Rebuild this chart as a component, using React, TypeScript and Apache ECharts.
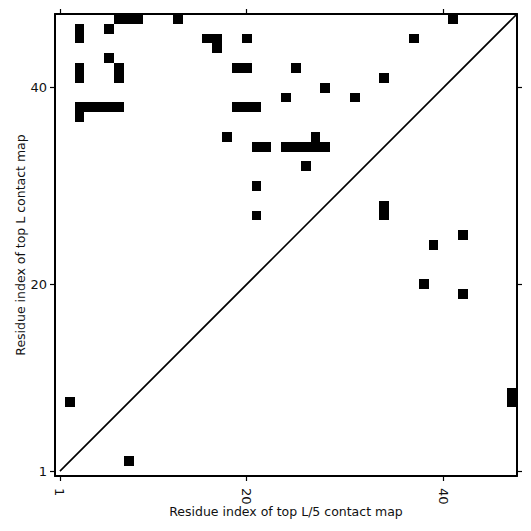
import React, { useEffect, useRef } from "react";
import * as echarts from "echarts";

const axisMin = 0.5;
const axisMax = 47.5;
const xTicks = [1, 20, 40];
const yTicks = [1, 20, 40];
const xTitle = "Residue index of top L/5 contact map";
const yTitle = "Residue index of top L contact map";

// contact cells: [residue i (x), residue j (y)]
const contacts: [number, number][] = [
  [7, 47], [8, 47], [9, 47], [13, 47], [41, 47],
  [3, 46], [6, 46],
  [3, 45], [16, 45], [17, 45], [20, 45], [37, 45],
  [17, 44],
  [6, 43],
  [3, 42], [7, 42], [19, 42], [20, 42], [25, 42],
  [3, 41], [7, 41], [34, 41],
  [28, 40],
  [24, 39], [31, 39],
  [3, 38], [4, 38], [5, 38], [6, 38], [7, 38], [19, 38], [20, 38], [21, 38],
  [3, 37],
  [18, 35], [27, 35],
  [21, 34], [22, 34], [24, 34], [25, 34], [26, 34], [27, 34], [28, 34],
  [26, 32],
  [21, 30],
  [34, 28],
  [21, 27], [34, 27],
  [42, 25],
  [39, 24],
  [38, 20],
  [42, 19],
  [47, 9],
  [2, 8], [47, 8],
  [8, 2],
];

const diagonal: [number, number][] = [
  [1, 1],
  [47.5, 47.5],
];

const font = "DejaVu Sans";

export default function App() {
  const ref = useRef<HTMLDivElement>(null);
  useEffect(() => {
    document.body.style.margin = "0";
    if (!ref.current) return;
    const chart = echarts.init(ref.current, null, { renderer: "svg" });
    const lineStyle = { color: "#000", width: 2 };
    const tickStyle = { color: "#000", width: 1.2 };
    chart.setOption({
      animation: false,
      backgroundColor: "#fff",
      grid: { left: 55, right: 14, top: 14, bottom: 55, containLabel: false },
      xAxis: [
        {
          type: "value",
          min: axisMin,
          max: axisMax,
          position: "bottom",
          splitLine: { show: false },
          axisLine: { onZero: false, lineStyle },
          axisTick: { customValues: xTicks, length: 5, lineStyle: tickStyle },
          axisLabel: {
            customValues: xTicks,
            rotate: -90,
            color: "#111",
            fontSize: 13,
            fontFamily: font,
            margin: 12,
          },
          name: xTitle,
          nameLocation: "middle",
          nameMoveOverlap: false,
          nameGap: 29,
          nameTextStyle: { color: "#111", fontSize: 12.5, fontFamily: font, verticalAlign: "top" },
        },
        {
          type: "value",
          min: axisMin,
          max: axisMax,
          position: "top",
          splitLine: { show: false },
          axisLine: { onZero: false, lineStyle },
          axisTick: { customValues: xTicks, length: 5, lineStyle: tickStyle },
          axisLabel: { show: false },
        },
      ],
      yAxis: [
        {
          type: "value",
          min: axisMin,
          max: axisMax,
          position: "left",
          splitLine: { show: false },
          axisLine: { onZero: false, lineStyle },
          axisTick: { customValues: yTicks, length: 5, lineStyle: tickStyle },
          axisLabel: {
            customValues: yTicks,
            color: "#111",
            fontSize: 13,
            fontFamily: font,
            margin: 8,
          },
          name: yTitle,
          nameLocation: "middle",
          nameMoveOverlap: false,
          nameGap: 28,
          nameTextStyle: { color: "#111", fontSize: 12.5, fontFamily: font },
        },
        {
          type: "value",
          min: axisMin,
          max: axisMax,
          position: "right",
          splitLine: { show: false },
          axisLine: { onZero: false, lineStyle },
          axisTick: { customValues: yTicks, length: 5, lineStyle: tickStyle },
          axisLabel: { show: false },
        },
      ],
      series: [
        {
          type: "custom",
          xAxisIndex: 0,
          yAxisIndex: 0,
          data: contacts,
          encode: { x: 0, y: 1 },
          clip: true,
          renderItem: (params: any, api: any) => {
            const x = api.value(0);
            const y = api.value(1);
            const a = api.coord([x - 0.5, y + 0.5]);
            const b = api.coord([x + 0.5, y - 0.5]);
            const x0 = Math.round(a[0]);
            const y0 = Math.round(a[1]);
            const x1 = Math.round(b[0]);
            const y1 = Math.round(b[1]);
            return {
              type: "rect",
              shape: { x: x0, y: y0, width: x1 - x0, height: y1 - y0 },
              style: { fill: "#000" },
            };
          },
        },
        {
          type: "line",
          xAxisIndex: 0,
          yAxisIndex: 0,
          data: diagonal,
          showSymbol: false,
          symbol: "none",
          clip: true,
          lineStyle: { color: "#000", width: 1.6 },
        },
      ],
    });
    return () => chart.dispose();
  }, []);
  return <div ref={ref} style={{ width: 531, height: 531 }} />;
}
